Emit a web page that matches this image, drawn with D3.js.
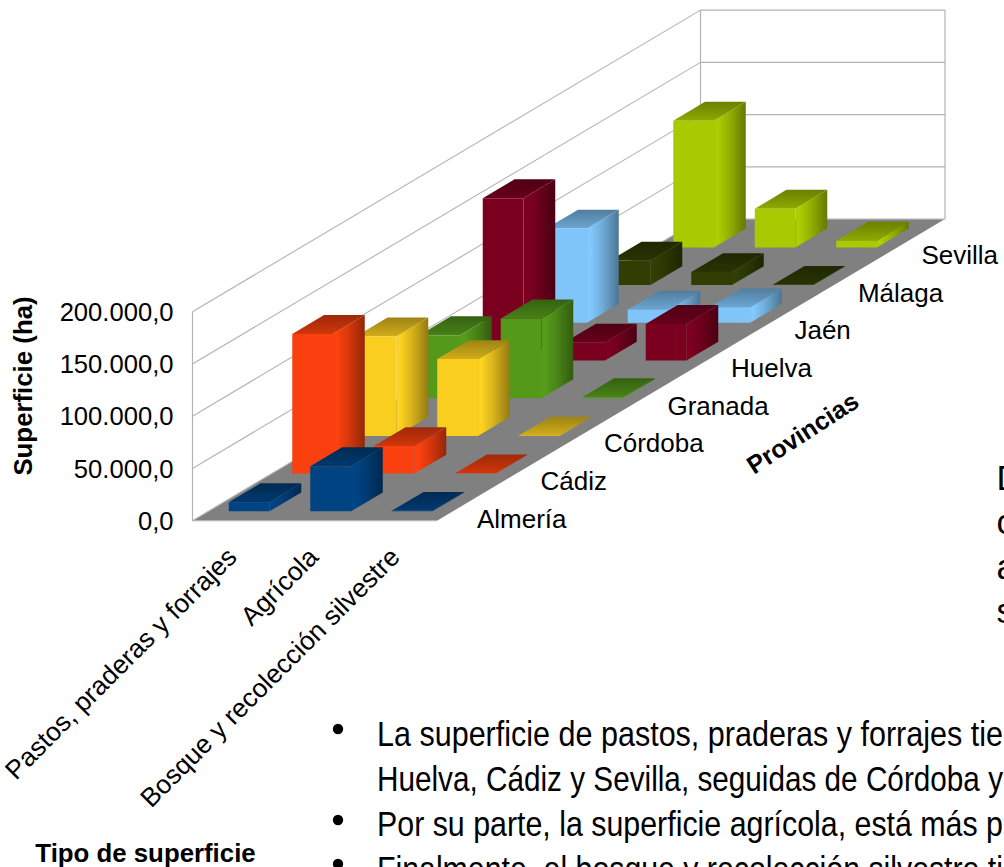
<!DOCTYPE html>
<html lang="es">
<head>
<meta charset="utf-8">
<title>Superficie por provincia</title>
<script src="https://cdn.jsdelivr.net/npm/d3@7/dist/d3.min.js"></script>
<style>
html,body{margin:0;padding:0;background:#fff;overflow:hidden}
svg{display:block}
text{font-family:"Liberation Sans",Arial,sans-serif;fill:#000}
.body{font-family:"Liberation Sans",sans-serif;font-size:35px}
</style>
</head>
<body>
<svg id="c" width="1004" height="867"></svg>
<script>
const categories = ["Pastos, praderas y forrajes", "Agrícola", "Bosque y recolección silvestre"];
const provinces = ["Almería", "Cádiz", "Córdoba", "Granada", "Huelva", "Jaén", "Málaga", "Sevilla"];
const valuesPastos  = [8700, 133600, 95200, 60300, 155300, 90100, 23400, 121200];
const valuesAgricola = [43200, 26400, 73500, 76300, 17200, 12600, 12400, 37000];
const valuesBosque  = [500, 300, 300, 1000, 35000, 14800, 300, 6400];
const seriesColors = ["#004586", "#ff420e", "#ffd320", "#579d1c", "#7e0021", "#83caff", "#314004", "#aecf00"];
const yTicks = [0, 50000, 100000, 150000, 200000];
const bodyLines = [
  "La superficie de pastos, praderas y forrajes tie",
  "Huelva, Cádiz y Sevilla, seguidas de Córdoba y",
  "Por su parte, la superficie agrícola, está más p",
  "Finalmente, el bosque y recolección silvestre ti"
];
const sideLetters = ["D", "c", "a", "s"];

const svg = d3.select("#c");
const defs = svg.append("defs");
const values = [valuesPastos, valuesAgricola, valuesBosque];

const ORIGIN = [192.5, 520.7];
const xS = d3.scaleLinear().domain([0, categories.length]).range([0, 244.5]);
const zX = d3.scaleLinear().domain([0, provinces.length]).range([0, 508]);
const zY = d3.scaleLinear().domain([0, provinces.length]).range([0, 301.6]);
const yS = d3.scaleLinear().domain([0, 200000]).range([0, 209]);
const P = (c, z, v) => [ORIGIN[0] + xS(c) + zX(z), ORIGIN[1] - zY(z) - yS(v)];
const poly = pts => pts.map(p => p.map(n => n.toFixed(2)).join(",")).join(" ");
const nC = categories.length, nZ = provinces.length, maxV = 200000;

// Floor and walls
const g = svg.append("g");
g.append("polygon").attr("points", poly([P(0,0,0), P(nC,0,0), P(nC,nZ,0), P(0,nZ,0)])).attr("fill", "#808080");

const gridC = "#b3b3b3";
yTicks.forEach(t => {
  const a = P(0,0,t), b = P(0,nZ,t), c = P(nC,nZ,t);
  g.append("line").attr("x1",a[0]).attr("y1",a[1]).attr("x2",b[0]).attr("y2",b[1]).attr("stroke",gridC).attr("stroke-width",1.1);
  g.append("line").attr("x1",b[0]).attr("y1",b[1]).attr("x2",c[0]).attr("y2",c[1]).attr("stroke",gridC).attr("stroke-width",1.2);
});
[[P(0,0,0),P(0,0,maxV)],[P(0,nZ,0),P(0,nZ,maxV)],[P(nC,nZ,0),P(nC,nZ,maxV)],[P(0,0,0),P(nC,0,0)]].forEach(([a,b]) => {
  g.append("line").attr("x1",a[0]).attr("y1",a[1]).attr("x2",b[0]).attr("y2",b[1]).attr("stroke",gridC).attr("stroke-width",1.2);
});

// Gradients
const shade = (col, k) => { const c = d3.rgb(col); return d3.rgb(c.r*k, c.g*k, c.b*k).formatHex(); };
seriesColors.forEach((col, i) => {
  const side = defs.append("linearGradient").attr("id","side"+i).attr("x1",0).attr("x2",1).attr("y1",0).attr("y2",0);
  [[0,shade(col,.975)],[.1,shade(col,1)],[.5,shade(col,.84)],[1,shade(col,.58)]].forEach(s=>side.append("stop").attr("offset",s[0]).attr("stop-color",s[1]));
  const tp = defs.append("linearGradient").attr("id","top"+i).attr("x1",0).attr("x2",0).attr("y1",1).attr("y2",0);
  [[0,shade(col,.82)],[1,shade(col,.62)]].forEach(s=>tp.append("stop").attr("offset",s[0]).attr("stop-color",s[1]));
});

// Bars: painter's order, back rows first
const bars = [];
provinces.forEach((p, z) => categories.forEach((cat, c) => bars.push({z, c, v: values[c][z]})));
bars.sort((a, b) => d3.descending(a.z, b.z) || d3.ascending(a.c, b.c));
const W0 = .25, W1 = .75;
const barG = svg.append("g");
bars.forEach(b => {
  const x0 = b.c + W0, x1 = b.c + W1, z0 = b.z + W0, z1 = b.z + W1, v = b.v;
  const bg = barG.append("g");
  bg.append("polygon").attr("points", poly([P(x1,z0,0),P(x1,z1,0),P(x1,z1,v),P(x1,z0,v)])).attr("fill","url(#side"+b.z+")");
  bg.append("polygon").attr("points", poly([P(x0,z0,v),P(x1,z0,v),P(x1,z1,v),P(x0,z1,v)])).attr("fill","url(#top"+b.z+")");
  bg.append("polygon").attr("points", poly([P(x0,z0,0),P(x1,z0,0),P(x1,z0,v),P(x0,z0,v)])).attr("fill",shade(seriesColors[b.z],.975));
});

// Y tick labels
const fmt = d3.formatLocale({decimal:",", thousands:".", grouping:[3], currency:["",""]}).format(",.1f");
svg.append("g").selectAll("text").data(yTicks).join("text")
  .attr("x", 173.5).attr("y", d => P(0,0,d)[1]).attr("dy", "0.36em")
  .attr("text-anchor","end").attr("font-size",25.6).text(fmt);

// Province labels
svg.append("g").selectAll("text").data(provinces).join("text")
  .attr("x", (d,i) => P(nC,i+.5,0)[0] + 8.2).attr("y", (d,i) => P(nC,i+.5,0)[1] + 26)
  .attr("font-size",26).text(d => d);

// Category labels
svg.append("g").selectAll("text").data(categories).join("text")
  .attr("transform", (d,i) => { const p = P(i+.5,0,0); return `translate(${p[0]+5},${p[1]+38}) rotate(-45)`; })
  .attr("text-anchor","end").attr("font-size",26.3).text(d => d);

// Axis titles
svg.append("text").attr("transform","translate(32,386) rotate(-90)").attr("text-anchor","middle")
  .attr("font-size",25.8).attr("font-weight","bold").text("Superficie (ha)");
svg.append("text").attr("x",145.5).attr("y",862).attr("text-anchor","middle")
  .attr("font-size",25.8).attr("font-weight","bold").text("Tipo de superficie");
svg.append("text").attr("transform","translate(754,475) rotate(-33)")
  .attr("font-size",25.2).attr("font-weight","bold").text("Provincias");

// Surrounding slide text
const bodyYs = [745.5, 791, 836, 881];
svg.append("g").selectAll("text").data(bodyLines).join("text").attr("class","body")
  .attr("x",377).attr("y",(d,i)=>bodyYs[i])
  .attr("textLength",626).attr("lengthAdjust","spacingAndGlyphs").text(d=>d);
const bulletYs = [729, 820, 864];
svg.append("g").selectAll("circle").data(bulletYs).join("circle")
  .attr("cx",338).attr("cy",d=>d).attr("r",5.2).attr("fill","#000");
const sideYs = [489.5, 533.5, 578.5, 623];
svg.append("g").selectAll("text").data(sideLetters).join("text").attr("class","body")
  .attr("x",996.5).attr("y",(d,i)=>sideYs[i]).text(d=>d);
</script>
</body>
</html>
